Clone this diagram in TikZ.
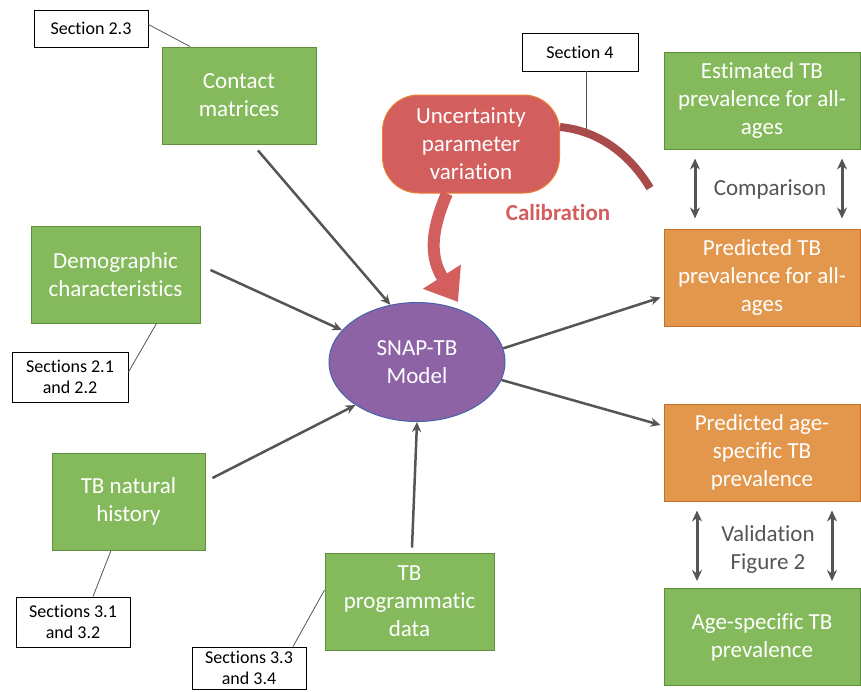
\documentclass[tikz,border=0pt]{standalone}
\usepackage{fontspec}
\setmainfont{Carlito}[Ligatures={NoCommon,NoContextual,NoRequired},Contextuals={NoAlternate}]
\usetikzlibrary{arrows.meta,shapes.geometric}
\definecolor{gfill}{HTML}{84BA5B}
\definecolor{gdraw}{HTML}{5E8F3C}
\definecolor{ofill}{HTML}{E2974D}
\definecolor{odraw}{HTML}{C46F27}
\definecolor{pfill}{HTML}{8E63A6}
\definecolor{pdraw}{HTML}{4463A8}
\definecolor{rfill}{HTML}{D35E5E}
\definecolor{rdraw}{HTML}{ED7D31}
\definecolor{calib}{HTML}{A94B4B}
\definecolor{arrgray}{HTML}{555555}
\tikzset{
  bigtext/.style={font=\fontsize{23}{28}\selectfont},
  gbox/.style={rectangle,fill=gfill,draw=gdraw,line width=1pt,text=white,bigtext,align=center,inner sep=0pt,minimum height=97pt},
  obox/.style={gbox,fill=ofill,draw=odraw},
  secbox/.style={rectangle,draw=black,line width=0.9pt,fill=white,font=\fontsize{18}{21}\selectfont,align=center,inner sep=0pt},
  arr/.style={draw=arrgray,line width=2.5pt,-{Stealth[length=10pt,width=9pt]}},
  dbl/.style={draw=arrgray,line width=3pt,{Stealth[length=11pt,width=10pt]}-{Stealth[length=11pt,width=10pt]}},
  seclink/.style={draw=arrgray,line width=0.8pt},
}
\begin{document}
\begin{tikzpicture}[x=1pt,y=-1pt]
\useasboundingbox (0,0) rectangle (861,691);
% main boxes
\node[gbox,minimum width=154pt] (contact) at (239,95.5) {Contact\\matrices};
\node[gbox,minimum width=169pt] (demo) at (115.5,274.5) {Demographic\\characteristics};
\node[gbox,minimum width=153pt] (nathist) at (128.5,501.5) {TB natural\\history};
\node[gbox,minimum width=169pt] (prog) at (409.5,601.5) {TB\\programmatic\\data};
\node[gbox,minimum width=196pt] (est) at (762,100.5) {Estimated TB\\prevalence for all-\\ages};
\node[obox,minimum width=196pt] (pred1) at (762,277.5) {Predicted TB\\prevalence for all-\\ages};
\node[obox,minimum width=196pt] (pred2) at (762,452.5) {Predicted age-\\specific TB\\prevalence};
\node[gbox,minimum width=196pt] (agesp) at (762,637) {Age-specific TB\\prevalence};
\node[ellipse,fill=pfill,draw=pdraw,line width=1pt,text=white,bigtext,align=center,inner sep=0pt,minimum width=176pt,minimum height=119pt] (model) at (417,362) {SNAP-TB\\Model};
\node[rectangle,rounded corners=36pt,fill=rfill,draw=rdraw,line width=1pt,text=white,bigtext,align=center,inner sep=0pt,minimum width=177pt,minimum height=98pt] (unc) at (471,144) {Uncertainty\\parameter\\variation};
% section boxes
\node[secbox,minimum width=114pt,minimum height=37pt] (s23) at (91,28.5) {Section 2.3};
\node[secbox,minimum width=116pt,minimum height=38pt] (s4) at (580,52) {Section 4};
\node[secbox,minimum width=116pt,minimum height=50pt] (s21) at (70,377) {Sections 2.1\\and 2.2};
\node[secbox,minimum width=114pt,minimum height=50pt] (s31) at (73,622) {Sections 3.1\\and 3.2};
\node[secbox,minimum width=114pt,minimum height=42pt] (s33) at (249,668) {Sections 3.3\\and 3.4};
% section links
\draw[seclink] ([yshift=4pt]s23.east) -- ([xshift=-49pt]contact.north);
\draw[seclink] ([yshift=5pt]s21.east) -- ([xshift=41pt]demo.south);
\draw[seclink] ([xshift=20pt]s31.north) -- ([xshift=-17.5pt]nathist.south);
\draw[seclink] ([xshift=44pt]s33.north) -- ([yshift=11.5pt]prog.west);
% calibration arc
\coordinate (calend) at (650,188);
\draw[calib,line width=8pt] ([yshift=17pt]unc.east) .. controls (600,131) and (630,155) .. (calend);
\coordinate (arcpt) at (586,129);
\draw[seclink] ([xshift=6pt]s4.south) -- (arcpt);
\node[text=rfill,font=\bfseries\fontsize{23}{27}\selectfont] (calib) at (558,213) {Calibration};
% big red arrow
\draw[rfill,line width=12pt,-{Triangle[length=30pt,width=43pt]}] ([xshift=-24pt]unc.south) .. controls (430,232) and (430,258) .. ([xshift=41pt]model.north);
% arrows into model
\draw[arr] ([xshift=19pt,yshift=-6pt]contact.south) -- (model.115);
\draw[arr] ([xshift=10pt,yshift=4.5pt]demo.east) -- (model.157);
\draw[arr] ([xshift=7pt,yshift=23.5pt]nathist.east) -- (model.215);
\draw[arr] ([xshift=2.5pt,yshift=5pt]prog.north) -- (model.south);
% arrows out of model
\draw[arr] (model.9) -- ([xshift=-3pt,yshift=-20pt]pred1.west);
\draw[arr] (model.-12) -- ([xshift=-3pt,yshift=27.5pt]pred2.west);
% comparison
\draw[dbl] ([xshift=-67pt,yshift=-9pt]est.south) -- ([xshift=-67pt,yshift=10pt]pred1.north);
\draw[dbl] ([xshift=80pt,yshift=-9pt]est.south) -- ([xshift=80pt,yshift=10pt]pred1.north);
\node[text=arrgray,bigtext] (comp) at (770,189) {Comparison};
% validation
\draw[dbl] ([xshift=-65pt,yshift=-9pt]pred2.south) -- ([xshift=-65pt,yshift=7pt]agesp.north);
\draw[dbl] ([xshift=70pt,yshift=-9pt]pred2.south) -- ([xshift=70pt,yshift=7pt]agesp.north);
\node[text=arrgray,bigtext,align=center] (valid) at (768,549) {Validation\\Figure 2};
\end{tikzpicture}
\end{document}
